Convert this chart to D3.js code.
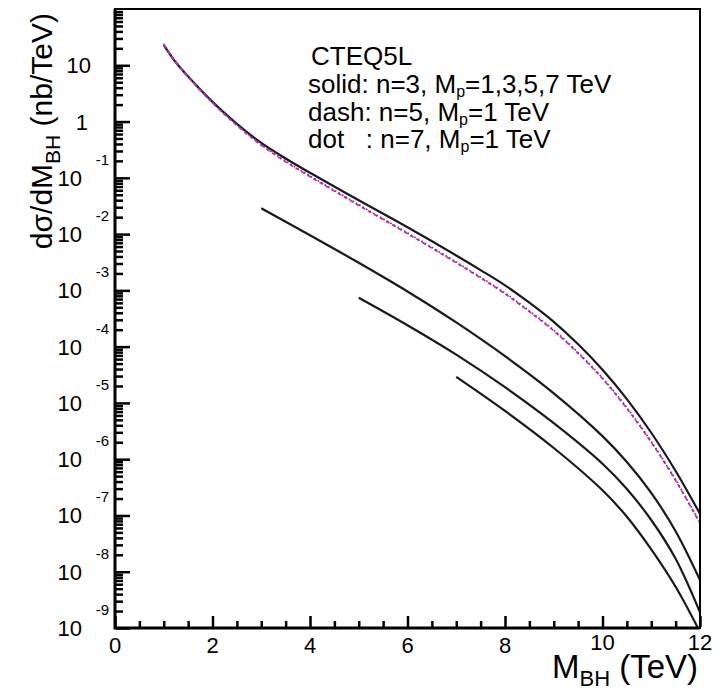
<!DOCTYPE html>
<html>
<head>
<meta charset="utf-8">
<script src="https://cdn.jsdelivr.net/npm/d3@7/dist/d3.min.js"></script>
<style>
body { margin: 0; background: #fff; }
text { font-family: "Liberation Sans", Arial, Helvetica, sans-serif; fill: #000; }
</style>
</head>
<body>
<script>
// black hole mass (TeV) and d(sigma)/dM (nb/TeV)
var m_mp1 = [1, 1.25, 1.5, 2, 2.5, 3, 3.5, 4, 5, 6, 7, 7.5, 8, 8.5, 9, 9.5, 10, 10.5, 11, 11.5, 12];
var n3_mp1 = [22.9, 11.2, 6.31, 2.24, 0.912, 0.417, 0.221, 0.123, 0.0398, 0.0132, 4.17e-3, 2.29e-3, 1.23e-3, 6.03e-4, 2.75e-4, 1.10e-4, 3.89e-5, 1.17e-5, 2.95e-6, 6.17e-7, 1.07e-7];
var n5_mp1 = [23.4, 11.2, 6.17, 2.14, 0.851, 0.380, 0.193, 0.105, 0.0324, 0.0102, 3.09e-3, 1.66e-3, 8.71e-4, 4.17e-4, 1.91e-4, 7.59e-5, 2.69e-5, 7.94e-6, 2.0e-6, 4.17e-7, 7.24e-8];
var n7_mp1 = [24.1, 11.5, 6.35, 2.20, 0.877, 0.391, 0.199, 0.108, 0.0334, 0.0105, 3.18e-3, 1.71e-3, 8.97e-4, 4.30e-4, 1.97e-4, 7.82e-5, 2.77e-5, 8.18e-6, 2.06e-6, 4.3e-7, 7.46e-8];

var m_mp3 = [3, 4, 5, 6, 7, 8, 9, 10, 10.5, 11, 11.5, 12];
var n3_mp3 = [0.0288, 9.55e-3, 3.09e-3, 9.55e-4, 2.69e-4, 6.76e-5, 1.48e-5, 2.57e-6, 8.9e-7, 2.51e-7, 5.25e-8, 7.1e-9];

var m_mp5 = [5, 6, 7, 8, 9, 10, 10.5, 11, 11.5, 12];
var n3_mp5 = [7.4e-4, 2.4e-4, 7.2e-5, 1.9e-5, 4.37e-6, 8.3e-7, 2.95e-7, 8.3e-8, 1.7e-8, 1.9e-9];

var m_mp7 = [7, 8, 9, 10, 10.5, 11, 11.5, 12];
var n3_mp7 = [2.9e-5, 7.2e-6, 1.58e-6, 2.8e-7, 9.5e-8, 2.5e-8, 5.4e-9, 8.5e-10];

var xTicks = [0, 2, 4, 6, 8, 10, 12];
var yDecades = [-9, -8, -7, -6, -5, -4, -3, -2, -1, 0, 1];

window.onload = function(){

    var w = 719, h = 690;
    var left = 115, right = 700, top = 9, bottom = 628;

    var svg = d3.select("body")
        .append("svg")
        .attr("width", w)
        .attr("height", h)
        .style("background-color", "#fff");

    var x = d3.scaleLinear().domain([0, 12]).range([left, right]);
    var y = d3.scaleLog().domain([1e-9, 1e2]).range([bottom, top]);

    svg.append("clipPath").attr("id", "plotclip")
        .append("rect")
        .attr("x", left).attr("y", top)
        .attr("width", right - left).attr("height", bottom - top);

    // curves
    var line = d3.line()
        .x(function(d){ return x(d[0]); })
        .y(function(d){ return y(d[1]); })
        .curve(d3.curveCatmullRom.alpha(0.5));

    var plot = svg.append("g").attr("clip-path", "url(#plotclip)");

    var curves = [
        { m: m_mp1, v: n3_mp1, color: "#1a1a1a", width: 2.2, dash: null },
        { m: m_mp3, v: n3_mp3, color: "#1a1a1a", width: 2.2, dash: null },
        { m: m_mp5, v: n3_mp5, color: "#1a1a1a", width: 2.2, dash: null },
        { m: m_mp7, v: n3_mp7, color: "#1a1a1a", width: 2.2, dash: null },
        { m: m_mp1, v: n5_mp1, color: "#ff2a5a", width: 1.8, dash: "4,3" },
        { m: m_mp1, v: n7_mp1, color: "#4040ff", width: 1.8, dash: "1.5,2.5" }
    ];

    plot.selectAll(".curve")
        .data(curves)
        .enter()
        .append("path")
        .attr("class", "curve")
        .attr("d", function(c){ return line(c.m.map(function(m, i){ return [m, c.v[i]]; })); })
        .attr("fill", "none")
        .attr("stroke", function(c){ return c.color; })
        .attr("stroke-width", function(c){ return c.width; })
        .attr("stroke-dasharray", function(c){ return c.dash; });

    // frame, left and bottom a bit heavier
    svg.append("rect")
        .attr("x", left).attr("y", top)
        .attr("width", right - left).attr("height", bottom - top)
        .attr("fill", "none")
        .attr("stroke", "#000")
        .attr("stroke-width", 2);
    svg.append("path")
        .attr("d", "M" + left + "," + top + "V" + bottom + "H" + right)
        .attr("fill", "none")
        .attr("stroke", "#000")
        .attr("stroke-width", 3);

    // y tick labels: "10" with exponent placed above right
    yDecades.forEach(function(e){
        var ty = y(Math.pow(10, e));
        if (e === 1) {
            svg.append("text").attr("x", 91).attr("y", ty + 8)
                .attr("text-anchor", "end").style("font-size", "22px").text("10");
        } else if (e === 0) {
            svg.append("text").attr("x", 88).attr("y", ty + 8)
                .attr("text-anchor", "end").style("font-size", "22px").text("1");
        } else {
            svg.append("text").attr("x", 82).attr("y", ty + 8)
                .attr("text-anchor", "end").style("font-size", "22px").text("10");
            svg.append("text").attr("x", 109).attr("y", ty - 13)
                .attr("text-anchor", "end").style("font-size", "15px").text(String(e));
        }
    });

    // x tick labels
    svg.selectAll(".xlab")
        .data(xTicks)
        .enter()
        .append("text")
        .attr("class", "xlab")
        .attr("x", function(v){ return x(v); })
        .attr("y", function(v){ return v >= 10 ? 650 : 653; })
        .attr("text-anchor", "middle")
        .style("font-size", "22px")
        .text(function(v){ return v; });

    // axis titles
    var xt = svg.append("text").attr("x", 552).attr("y", 678).style("font-size", "33px");
    xt.append("tspan").text("M");
    xt.append("tspan").attr("dy", 8).style("font-size", "22px").text("BH");
    xt.append("tspan").attr("dy", -8).text(" (TeV)");

    var yt = svg.append("text")
        .attr("transform", "translate(52,13) rotate(-90)")
        .attr("text-anchor", "end")
        .style("font-size", "30px");
    yt.append("tspan").text("d\u03c3/dM");
    yt.append("tspan").attr("dy", 8).style("font-size", "21px").text("BH");
    yt.append("tspan").attr("dy", -8).text(" (nb/TeV)");

    // legend text
    var lg = svg.append("g").style("font-size", "26px").style("white-space", "pre");
    lg.append("text").attr("x", 311).attr("y", 65).text("CTEQ5L");
    var rows = [["solid: n=3, M", "=1,3,5,7 TeV", 93], ["dash: n=5, M", "=1 TeV", 121], ["dot   : n=7, M", "=1 TeV", 148]];
    rows.forEach(function(r){
        var t = lg.append("text").attr("x", 308).attr("y", r[2]).attr("xml:space", "preserve");
        t.append("tspan").text(r[0]);
        t.append("tspan").attr("dy", 4).style("font-size", "16px").text("p");
        t.append("tspan").attr("dy", -4).text(r[1]);
    });

    // ticks, drawn last, pointing inside the frame
    var majorY = yDecades.map(function(e){ return Math.pow(10, e); });
    var minorY = [];
    yDecades.concat([2]).forEach(function(e){
        for (var k = 2; k <= 9; k++) {
            var v = k * Math.pow(10, e - 1);
            if (v > 1e-9 && v < 1e2) minorY.push(v);
        }
    });
    var minorX = [];
    for (var s = 0.5; s < 12; s += 0.5) { if (s % 2 !== 0) minorX.push(s); }

    var yAxisMajor = d3.axisRight(y).tickValues(majorY).tickSize(14).tickSizeOuter(0).tickFormat(function(){ return ""; });
    var yAxisMinor = d3.axisRight(y).tickValues(minorY).tickSize(7).tickSizeOuter(0).tickFormat(function(){ return ""; });
    var xAxisMajor = d3.axisTop(x).tickValues(xTicks).tickSize(11).tickSizeOuter(0).tickFormat(function(){ return ""; });
    var xAxisMinor = d3.axisTop(x).tickValues(minorX).tickSize(6).tickSizeOuter(0).tickFormat(function(){ return ""; });

    var gy1 = svg.append("g").attr("transform", "translate(" + (left + 1) + ",0)").call(yAxisMajor);
    var gy2 = svg.append("g").attr("transform", "translate(" + (left + 1) + ",0)").call(yAxisMinor);
    var gx1 = svg.append("g").attr("transform", "translate(0," + (bottom - 1) + ")").call(xAxisMajor);
    var gx2 = svg.append("g").attr("transform", "translate(0," + (bottom - 1) + ")").call(xAxisMinor);
    [gy1, gy2, gx1, gx2].forEach(function(g){
        g.select(".domain").remove();
        g.selectAll("line").attr("stroke", "#000").attr("stroke-width", 2.5);
    });
};
</script>
</body>
</html>
